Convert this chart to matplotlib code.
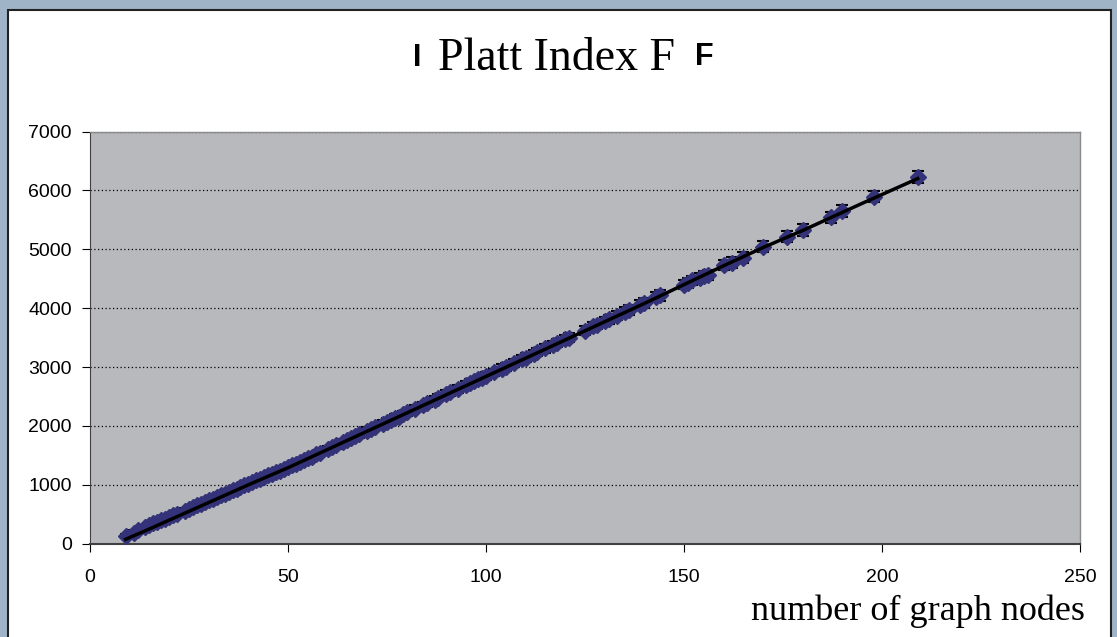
import matplotlib.pyplot as plt
from matplotlib.patches import Rectangle

# measured points (number of nodes, Platt index)
nodes = [9, 11, 12, 14, 15, 16, 17, 18, 19, 20, 21, 22, 24, 25, 26, 27, 28, 29,
         30, 31, 32, 33, 34, 35, 36, 37, 38, 39, 40, 41, 42, 43, 44, 45, 46, 47,
         48, 49, 50, 51, 52, 53, 54, 55, 56, 57, 58, 60, 61, 62, 64, 65, 66, 67,
         68, 70, 71, 72, 74, 75, 76, 77, 78, 79, 80, 82, 84, 85, 87, 88, 90, 91,
         93, 95, 96, 97, 98, 99, 100, 102, 104, 105, 107, 109, 110, 112, 113,
         115, 117, 118, 120, 121, 125, 127, 128, 130, 131, 133, 135, 136, 139,
         140, 143, 144, 150, 151, 152, 154, 155, 156, 160, 162, 165, 170, 176,
         180, 187, 190, 198, 209]
platt = [130, 190, 225, 290, 320, 345, 370, 400, 425, 450, 480, 500, 560, 590,
         615, 650, 680, 700, 735, 760, 790, 820, 850, 880, 905, 935, 960, 990,
         1020, 1050, 1075, 1100, 1135, 1160, 1185, 1215, 1240, 1270, 1300, 1330,
         1360, 1395, 1420, 1455, 1480, 1515, 1545, 1610, 1640, 1670, 1730, 1760,
         1795, 1825, 1855, 1920, 1945, 1980, 2040, 2070, 2100, 2135, 2160, 2195,
         2230, 2290, 2350, 2385, 2445, 2480, 2540, 2570, 2630, 2695, 2725, 2755,
         2790, 2815, 2850, 2910, 2975, 3005, 3070, 3130, 3160, 3220, 3255, 3315,
         3375, 3410, 3470, 3500, 3620, 3690, 3715, 3780, 3810, 3875, 3935, 3970,
         4060, 4090, 4190, 4220, 4400, 4430, 4470, 4520, 4540, 4560, 4735, 4775,
         4860, 5045, 5215, 5330, 5540, 5650, 5895, 6225]
err = [35, 35, 35, 35, 35, 35, 35, 35, 35, 40, 40, 40, 40, 40, 40, 40, 40, 40,
       40, 40, 40, 40, 40, 45, 45, 45, 45, 45, 45, 45, 45, 45, 45, 45, 45, 45,
       45, 45, 50, 50, 50, 50, 50, 50, 50, 50, 50, 55, 55, 55, 55, 55, 55, 55,
       55, 55, 55, 55, 60, 60, 60, 60, 60, 60, 60, 60, 60, 60, 60, 60, 65, 65,
       65, 65, 65, 65, 65, 65, 65, 65, 70, 70, 70, 70, 70, 70, 70, 70, 70, 70,
       75, 75, 75, 75, 75, 75, 75, 75, 80, 80, 80, 80, 90, 90, 80, 80, 80, 80,
       85, 85, 90, 90, 90, 95, 100, 100, 100, 105, 95, 105]

# black trend line
trend_x = [9, 15, 22, 30, 40, 50, 60, 70, 80, 90, 100, 110, 120, 130, 140,
           150, 160, 170, 180, 195, 209]
trend_y = [75, 250, 460, 700, 1000, 1290, 1600, 1910, 2220, 2530, 2840, 3150,
           3460, 3770, 4080, 4400, 4720, 5030, 5320, 5780, 6200]

fig = plt.figure(figsize=(11.17, 6.37), dpi=100, facecolor='#9fb4c7')
fig.patches.append(Rectangle((8 / 1117, -0.05), 1103 / 1117, 1.05 - 10 / 637,
                             transform=fig.transFigure, facecolor='white',
                             edgecolor='#222222', linewidth=1.5, zorder=-1))

ax = fig.add_axes([90 / 1117, 1 - 543.7 / 637, 990 / 1117, 412.2 / 637])
ax.set_zorder(2)
ax.set_facecolor('#b8b9bd')

ax.errorbar(nodes, platt, yerr=err, fmt='D', color='#34337a', markersize=8.5,
            ecolor='black', elinewidth=1.2, capsize=4, capthick=1.5, zorder=3)
ax.plot(trend_x, trend_y, color='black', lw=2.5, zorder=4)

ax.set_xlim(0, 250)
ax.set_ylim(0, 7000)
ax.set_xticks(range(0, 251, 50))
ax.set_yticks(range(0, 7001, 1000))
ax.yaxis.grid(True, color='black', linestyle=(0, (1, 2)), lw=0.9)
ax.set_axisbelow(True)

for s in ['top', 'right']:
    ax.spines[s].set_color('#8a8a8a')
    ax.spines[s].set_linewidth(1)
ax.spines['left'].set_color('#404040')
ax.spines['bottom'].set_color('#404040')
ax.spines['bottom'].set_linewidth(1.5)

ax.tick_params(axis='y', direction='out', length=6, pad=7, labelsize=14)
ax.tick_params(axis='x', direction='out', length=6, pad=12, labelsize=14)
for lab in ax.get_xticklabels() + ax.get_yticklabels():
    lab.set_fontfamily('Liberation Sans')

# title pieces
fig.text(556 / 1117, 1 - 70 / 637, 'Platt Index F', ha='center', va='baseline',
         fontsize=33, family='Liberation Serif')
fig.text(413 / 1117, 1 - 66 / 637, 'I', ha='left', va='baseline',
         fontsize=22, family='Liberation Sans', fontweight='bold')
fig.text(695 / 1117, 1 - 65 / 637, 'F', ha='left', va='baseline',
         fontsize=22, family='Liberation Sans', fontweight='bold')

fig.text(1085 / 1117, 1 - 620 / 637, 'number of graph nodes', ha='right',
         va='baseline', fontsize=26, family='Liberation Serif')

fig.savefig('out.png', dpi=100, facecolor=fig.get_facecolor())
